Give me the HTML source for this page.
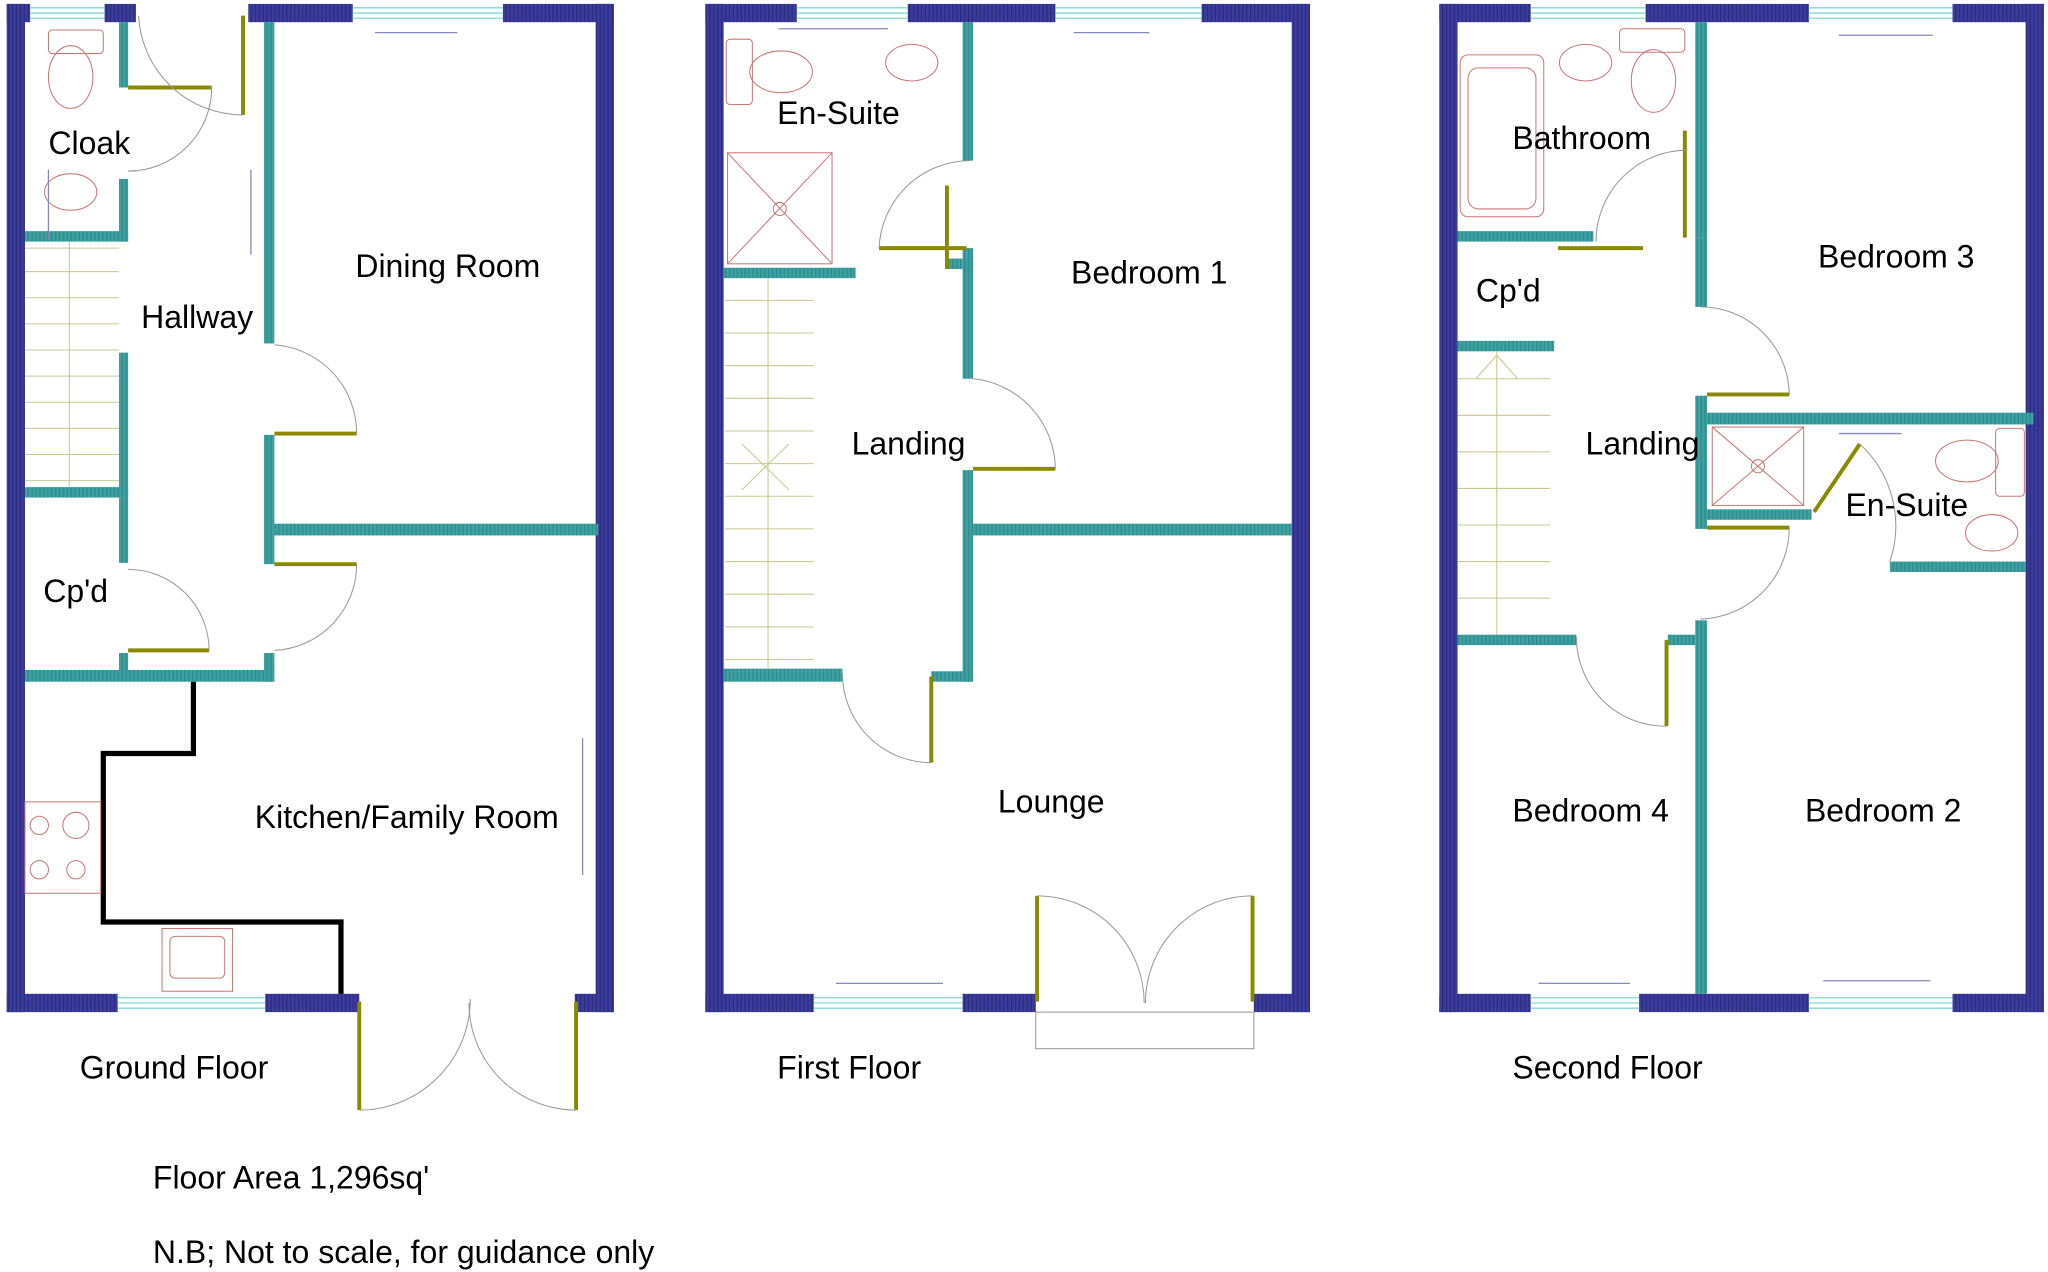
<!DOCTYPE html>
<html><head><meta charset="utf-8"><style>
html,body{margin:0;padding:0;background:#fff;}
svg{display:block;}
text{font-family:"Liberation Sans",Arial,sans-serif;fill:#000;}
</style></head><body>
<svg width="2048" height="1272" viewBox="0 0 1568 974" xmlns="http://www.w3.org/2000/svg">
<defs>
<pattern id="nv" width="3" height="3" patternUnits="userSpaceOnUse"><rect width="3" height="3" fill="#3c3c9c"/><rect width="1" height="3" fill="#2c2c80"/></pattern>
<pattern id="tl" width="3" height="3" patternUnits="userSpaceOnUse"><rect width="3" height="3" fill="#3ea0a0"/><rect width="1" height="3" fill="#2e8c8c"/></pattern>
</defs>
<g fill="url(#nv)">
<rect x="5" y="3" width="14" height="772"/><rect x="456" y="3" width="14" height="772"/>
<rect x="5" y="3" width="18" height="14"/><rect x="80" y="3" width="24" height="14"/>
<rect x="190" y="3" width="80" height="14"/><rect x="385" y="3" width="85" height="14"/>
<rect x="5" y="761" width="85" height="14"/><rect x="203" y="761" width="72" height="14"/><rect x="440" y="761" width="30" height="14"/>
<rect x="540" y="3" width="14" height="772"/><rect x="989" y="3" width="14" height="772"/>
<rect x="540" y="3" width="70" height="14"/><rect x="695" y="3" width="113" height="14"/><rect x="920" y="3" width="83" height="14"/>
<rect x="540" y="761" width="83" height="14"/><rect x="737" y="761" width="56" height="14"/><rect x="960" y="761" width="43" height="14"/>
<rect x="1102" y="3" width="14" height="772"/><rect x="1551" y="3" width="14" height="772"/>
<rect x="1102" y="3" width="70" height="14"/><rect x="1260" y="3" width="125" height="14"/><rect x="1495" y="3" width="70" height="14"/>
<rect x="1102" y="761" width="70" height="14"/><rect x="1255" y="761" width="130" height="14"/><rect x="1495" y="761" width="70" height="14"/>
</g>
<g stroke="#7fd8d8" stroke-width="1" fill="none">
<path d="M23 6H80M23 10H80M23 14H80M270 6H385M270 10H385M270 14H385M90 764H203M90 768H203M90 772H203"/>
<path d="M610 6H695M610 10H695M610 14H695M808 6H920M808 10H920M808 14H920M623 764H737M623 768H737M623 772H737"/>
<path d="M1172 6H1260M1172 10H1260M1172 14H1260M1385 6H1495M1385 10H1495M1385 14H1495M1172 764H1255M1172 768H1255M1172 772H1255M1385 764H1495M1385 768H1495M1385 772H1495"/>
</g>
<g fill="url(#tl)">
<rect x="91" y="17" width="7" height="50"/><rect x="91" y="137" width="7" height="48"/>
<rect x="19" y="177" width="79" height="8"/>
<rect x="202" y="17" width="8" height="246"/><rect x="202" y="333" width="8" height="99"/>
<rect x="210" y="401" width="248" height="9"/>
<rect x="91" y="270" width="7" height="110"/><rect x="19" y="373" width="79" height="8"/>
<rect x="91" y="381" width="7" height="50"/><rect x="91" y="500" width="7" height="14"/>
<rect x="19" y="513" width="191" height="9"/><rect x="202" y="500" width="8" height="22"/>
<rect x="737" y="17" width="8" height="106"/><rect x="554" y="205" width="101" height="8"/>
<rect x="737" y="190" width="8" height="100"/><rect x="725" y="198" width="12" height="8"/>
<rect x="737" y="360" width="8" height="162"/><rect x="745" y="401" width="244" height="9"/>
<rect x="554" y="512" width="91" height="10"/><rect x="713" y="514" width="30" height="8"/>
<rect x="1116" y="177" width="104" height="8"/><rect x="1298" y="17" width="9" height="165"/><rect x="1298" y="182" width="9" height="53"/>
<rect x="1116" y="261" width="74" height="8"/>
<rect x="1298" y="303" width="9" height="102"/><rect x="1307" y="316" width="250" height="9"/>
<rect x="1307" y="390" width="80" height="8"/><rect x="1447" y="430" width="104" height="8"/>
<rect x="1116" y="486" width="91" height="8"/><rect x="1277" y="486" width="21" height="8"/><rect x="1298" y="475" width="9" height="286"/>
</g>
<g stroke="#8a8a00" stroke-width="3" fill="none">
<path d="M98 67H162M186 12V88M210 332H273M210 432H273M98 498H160M275 767V850M441 767V850"/>
<path d="M673 190H740M725 142V206M745 359H808M713 518V584M794 686V767M959 686V767"/>
<path d="M1193 190H1258M1290 100V182M1307 302H1370M1307 404H1370M1389 392L1424 340M1276 490V556"/>
</g>
<g stroke="#999" stroke-width="0.8" fill="none">
<path d="M162 67A64 64 0 0 1 98 131M186 88A80 80 0 0 1 106 12M273 332A68 68 0 0 0 210 264M273 432A66 66 0 0 1 210 498M160 498A62 62 0 0 0 98 436M275 850A85 85 0 0 0 360 765M441 850A82 82 0 0 1 359 768"/>
<path d="M673 190A70 70 0 0 1 743 123M808 359A70 70 0 0 0 745 290M713 584A68 68 0 0 1 645 516M794 686A82 82 0 0 1 876 768M959 686A82 82 0 0 0 877 768"/>
<path d="M1222 185A70 70 0 0 1 1292 115M1370 302A68 68 0 0 0 1302 235M1370 404A70 70 0 0 1 1302 474M1424 340A85 85 0 0 1 1447 430M1276 556A68 68 0 0 1 1207 488"/>
<rect x="793" y="775" width="167" height="28"/>
</g>
<path d="M148 522V577H79V706H261V761" stroke="#000" stroke-width="4" fill="none"/>
<g stroke="#c8c890" stroke-width="0.8" fill="none">
<path d="M19 190H91M19 208H91M19 228H91M19 248H91M19 268H91M19 288H91M19 308H91M19 328H91M19 348H91M19 368H91M53 185V373"/>
<path d="M555 230H623M555 255H623M555 280H623M555 305H623M555 330H623M555 355H623M555 380H623M555 405H623M555 430H623M555 455H623M555 480H623M555 505H623M588 213V512M568 340L604 375M604 340L568 375"/>
<path d="M1116 290H1187M1116 318H1187M1116 346H1187M1116 374H1187M1116 402H1187M1116 430H1187M1116 458H1187M1146 269V486M1130 290L1146 272L1162 290"/>
</g>
<g stroke="#c87878" stroke-width="0.8" fill="none">
<rect x="37" y="23" width="42" height="18" rx="3"/><ellipse cx="54" cy="59" rx="17" ry="24"/>
<ellipse cx="54" cy="147" rx="20" ry="14"/>
<rect x="124" y="711" width="54" height="48"/><rect x="130" y="717" width="42" height="32" rx="4"/>
<rect x="19" y="614" width="58" height="70"/><circle cx="30" cy="632" r="7"/><circle cx="58" cy="632" r="10"/><circle cx="30" cy="666" r="7"/><circle cx="58" cy="666" r="7"/>
<rect x="556" y="30" width="20" height="50" rx="3"/><ellipse cx="598" cy="55" rx="24" ry="16"/><ellipse cx="698" cy="48" rx="20" ry="14"/>
<rect x="557" y="117" width="80" height="85"/><path d="M557 117L637 202M637 117L557 202"/><circle cx="597" cy="160" r="5"/>
<rect x="1118" y="42" width="64" height="124" rx="6"/><rect x="1124" y="52" width="52" height="108" rx="8"/>
<ellipse cx="1214" cy="48" rx="20" ry="14"/><rect x="1240" y="22" width="50" height="18" rx="3"/><ellipse cx="1266" cy="62" rx="17" ry="24"/>
<rect x="1311" y="327" width="70" height="60"/><path d="M1311 327L1381 387M1381 327L1311 387"/><circle cx="1346" cy="357" r="5"/>
<rect x="1528" y="328" width="22" height="52" rx="3"/><ellipse cx="1506" cy="353" rx="24" ry="16"/><ellipse cx="1525" cy="408" rx="20" ry="14"/>
</g>
<g stroke="#8888bb" stroke-width="1">
<path d="M37 130V183M192 130V195M287 25H350M446 565V670M640 753H722M822 25H880M1178 753H1248M1396 751H1478M1408 27H1480M1408 332H1456M596 22H680"/>
</g>
<g font-size="24.5">
<text x="37" y="118">Cloak</text>
<text x="272" y="212">Dining Room</text>
<text x="108" y="251">Hallway</text>
<text x="33" y="461">Cp'd</text>
<text x="195" y="634">Kitchen/Family Room</text>
<text x="61" y="826">Ground Floor</text>
<text x="595" y="95">En-Suite</text>
<text x="820" y="217">Bedroom 1</text>
<text x="652" y="348">Landing</text>
<text x="764" y="622">Lounge</text>
<text x="595" y="826">First Floor</text>
<text x="1158" y="114">Bathroom</text>
<text x="1392" y="205">Bedroom 3</text>
<text x="1130" y="231">Cp'd</text>
<text x="1214" y="348">Landing</text>
<text x="1413" y="395">En-Suite</text>
<text x="1158" y="629">Bedroom 4</text>
<text x="1382" y="629">Bedroom 2</text>
<text x="1158" y="826">Second Floor</text>
<text x="117" y="910">Floor Area 1,296sq'</text>
<text x="117" y="967">N.B; Not to scale, for guidance only</text>
</g>
</svg>
</body></html>
